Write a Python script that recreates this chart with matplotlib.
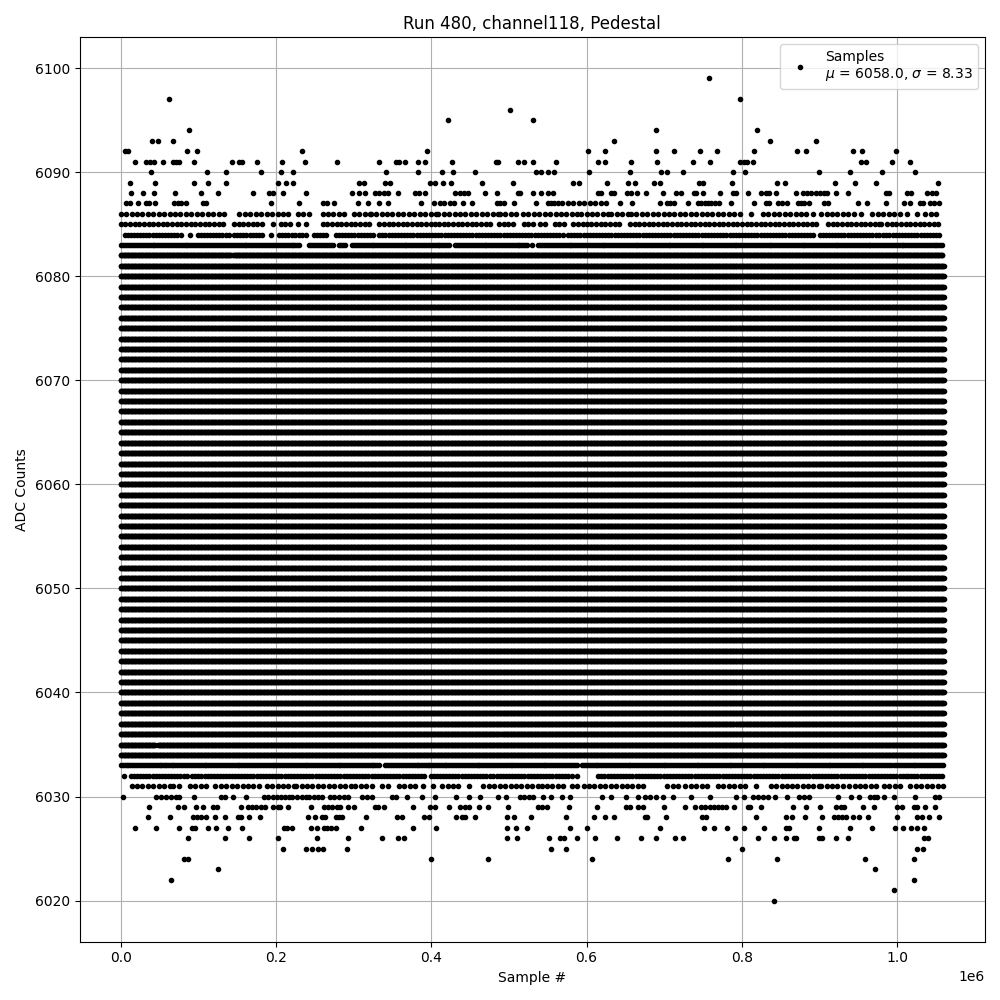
import numpy as np
import matplotlib
matplotlib.use("Agg")
import matplotlib.pyplot as plt

# ---- data (x in thousands of samples) ----
title = "Run 480, channel118, Pedestal"
mu, sigma = 6058.0, 8.33
n_samples_k = 1060

# levels that are (nearly) continuously filled over the run
full_levels = list(range(6034, 6082))
# gaps in otherwise full levels
full_level_gaps = {
    6035: [(0, 44), (48, 851), (853, 1060)],
    6036: [(0, 487), (489, 1060)],
    6037: [(0, 790), (792, 1060)],
}

# semi-dense levels: filled segments (thousands of samples)
segments = {
    6087: [(576, 598), (604, 628)],
    6086: [(0, 134), (153, 174), (181, 217), (228, 232), (243, 243), (260, 290), (300, 318),
           (322, 405), (409, 484), (488, 510), (518, 590), (593, 628), (632, 654), (657, 799),
           (812, 812), (827, 885), (891, 891), (902, 944), (953, 953), (968, 1002), (1013, 1013),
           (1026, 1026), (1036, 1051)],
    6085: [(0, 37), (42, 134), (146, 183), (196, 196), (206, 217), (228, 228), (238, 238),
           (260, 318), (333, 403), (410, 474), (487, 508), (519, 534), (540, 547), (559, 572),
           (583, 594), (600, 641), (656, 686), (692, 896), (911, 975), (979, 979), (987, 1056)],
    6084: [(5, 74), (78, 78), (89, 89), (99, 140), (146, 183), (193, 193), (204, 226), (230, 238),
           (249, 264), (277, 324), (333, 570), (576, 894), (900, 975), (982, 1056)],
    6083: [(1, 101), (104, 123), (127, 198), (200, 230), (243, 273), (281, 288), (298, 422),
           (431, 523), (530, 530), (538, 1058)],
    6082: [(0, 142), (145, 1058)],
    6033: [(0, 57), (58, 333), (341, 395), (397, 587), (594, 992), (996, 1058)],
    6032: [(4, 5), (13, 86), (92, 133), (135, 392), (399, 422), (427, 474), (480, 576), (581, 581),
           (587, 587), (615, 769), (771, 844), (847, 1011), (1014, 1058)],
    6031: [(14, 62), (68, 73), (89, 110), (122, 181), (188, 221), (226, 260), (268, 294), (302, 324),
           (337, 343), (358, 380), (389, 389), (402, 402), (414, 425), (435, 436), (448, 448),
           (467, 534), (542, 568), (581, 587), (596, 632), (638, 656), (666, 675), (704, 718),
           (727, 756), (769, 807), (818, 818), (837, 863), (871, 896), (902, 932), (938, 975),
           (983, 1005), (1016, 1016), (1024, 1058)],
}
# typical spacing of neighbouring samples on each semi-dense level (thousands of samples)
segment_spacing = {6087: 7, 6086: 7, 6085: 6, 6084: 4, 6083: 2.5, 6082: 1,
                   6033: 2.5, 6032: 4, 6031: 7}

# sparse levels: individual sample positions (thousands of samples)
sparse = {
    6099: [757],
    6097: [62, 797],
    6096: [501.5],
    6095: [422, 531.5],
    6094: [88.6, 689.7, 819.4],
    6093: [40, 48, 68, 635.4, 836, 895],
    6092: [5, 9.4, 85, 98, 233, 394.5, 602, 624, 689.7, 712.5, 745.4, 768, 816, 870.7, 882.3,
           943.5, 955, 999],
    6091: [18, 33, 38, 43, 54, 67, 71.5, 74.5, 95, 143, 153, 156, 175, 208, 237, 278, 332, 355,
           359, 366, 383, 392, 426.6, 483, 486.5, 511, 519, 531, 561, 615, 623.5, 657.6, 691, 737,
           759, 798, 802.3, 806.5, 814, 953, 959.3, 993.6, 1017],
    6090: [39, 111, 136, 181, 207, 222.5, 342, 383, 413.7, 428, 456.6, 534.4, 541, 550.7, 557.5,
           603.7, 655.6, 695.4, 704, 724.4, 788, 804, 899, 938.8, 980, 1022.7],
    6089: [12.4, 44, 95, 113, 136, 203, 213, 222.5, 307, 313, 340, 347, 398.8, 405, 415, 425.3,
           465, 505, 582, 590.5, 625.6, 653.4, 662.8, 686.8, 694.5, 745, 749.7, 787, 845, 855,
           920, 945.7, 972, 1052],
    6088: [13.7, 28.6, 43, 70, 103.5, 125, 171, 191, 195.5, 209, 238, 298, 307, 315, 328, 333,
           339, 344, 357, 379.6, 383.8, 391.5, 431, 437, 441.6, 446.7, 469.4, 484.3, 511.3, 514.3,
           530.5, 541.3, 550, 557, 615, 619, 632, 635.4, 652.5, 657, 664.6, 677, 698.7, 714.6,
           721.8, 737.7, 741, 749.7, 772, 788, 792.4, 808, 825, 831, 835, 843.8, 870, 879, 883.6,
           888.8, 895, 900.8, 906, 910, 920.8, 936.7, 986, 990, 1012.8, 1018, 1038.5, 1045, 1050.5],
    6087: [7.3, 12.4, 22, 32, 36, 43.6, 69, 73.6, 78, 84, 105.6, 110, 193, 230, 260, 266, 275,
           305, 319, 333, 344, 386.8, 403, 411.7, 416, 424.5, 429, 440.7, 453, 484.3, 488.7, 494,
           506.7, 534.4, 550, 554, 558.4, 562.7, 567.8, 642.7, 659, 694, 704, 708, 713, 730, 743,
           747.5, 752, 756, 760, 764.7, 771, 786, 816, 831, 835, 846, 851.5, 858, 871.6, 876, 880,
           886.6, 906, 911, 949.5, 961.5, 986, 1008.6, 1016, 1029, 1033.4, 1042, 1047, 1053.5],
    6030: [3, 45.8, 52.2, 58.7, 65, 71.5, 75.7, 95, 129, 134.8, 145, 162, 184.8, 190.3, 195.5,
           201, 206, 211.8, 216.9, 221, 227.6, 233, 238.3, 242.6, 249, 254.6, 259.7, 269, 274.7,
           281, 287.6, 293, 311, 317.5, 324, 349.6, 354.8, 368.8, 388, 405, 431.7, 448, 463,
           486.5, 496, 514, 519.9, 525.9, 531.5, 544.3, 554, 567.8, 578.6, 620, 631, 650.4, 666.2,
           674.8, 681, 689.7, 698.3, 711.6, 734.7, 759, 792.4, 803, 814, 820.3, 826.7, 833, 842.5,
           858, 874, 880, 886.6, 923.8, 941, 950.8, 964.8, 970, 974.3, 983, 995.7, 1023.3, 1049,
           1053.5],
    6029: [36, 73.6, 81, 97, 106.5, 118.5, 123.6, 155, 163.4, 169, 174, 180.6, 186, 196.4, 202,
           205, 216, 244.8, 262, 267.4, 272.6, 278, 283, 293, 300, 327, 331.5, 339, 376.5, 398.8,
           405, 423, 437, 443.8, 448, 460.8, 472.8, 498.5, 537, 542, 548.5, 577, 614, 651, 655.6,
           666.2, 672.6, 699.4, 727, 739.8, 746.7, 751.8, 759, 763.8, 769, 774, 779.6, 790, 807.4,
           811, 824.5, 865.6, 882.3, 900.3, 920.8, 927.3, 931.6, 956, 970, 1000, 1006.4, 1021,
           1025.7, 1035.5, 1049],
    6028: [35, 64, 92.8, 98, 103.5, 110, 121.5, 134, 150.6, 155, 164.7, 179.3, 241.3, 250, 258.9,
           263, 277, 281, 285.4, 316, 356, 362, 391, 396.7, 431.7, 439.4, 442.9, 456.6, 497, 506.6,
           528, 573, 609.3, 623.5, 635, 674.8, 678, 702.5, 748.4, 754, 818, 857, 865, 881, 903,
           918.7, 923.8, 929.4, 933.7, 943.5, 950.8, 962.8, 1000, 1025.7, 1032, 1040.6, 1053.5],
    6027: [19, 45.8, 75, 92, 96, 113, 122.8, 137.7, 155.7, 210.5, 214.8, 221, 244.8, 253.3, 261.9,
           266, 270.4, 277, 309, 376.5, 406.5, 497, 508.7, 522.8, 578, 601, 694.7, 751, 763.4, 781,
           803, 828.8, 857, 861, 899.5, 938.8, 967, 996.5, 1007.7, 1018, 1024.8, 1035],
    6026: [86.4, 134, 164.7, 203, 253.3, 292.7, 337, 357.5, 364.6, 497, 510, 551, 565.7, 571.3,
           587, 610.7, 639.7, 670.5, 689.7, 714, 724.4, 791.6, 821, 840.8, 857, 867, 869.4, 899.5,
           903.7, 921.3, 936, 1035, 1039.4],
    6025: [209, 238.4, 247, 254.6, 260.6, 291.8, 553.7, 573, 800, 1024.8, 1033.4],
    6024: [82, 86.4, 399.7, 472.8, 606.3, 782, 845, 958, 1021],
    6023: [125, 971],
    6022: [64.6, 1021],
    6021: [995.7],
    6020: [841.7],
}

# ---- assemble points ----
xs, ys = [], []


def add_segments(level, segs, step):
    for a, b in segs:
        pts = np.arange(a, b + step / 2, step) if b > a else np.array([a])
        xs.append(pts * 1000.0)
        ys.append(np.full(len(pts), level))


for lvl in full_levels:
    add_segments(lvl, full_level_gaps.get(lvl, [(0, n_samples_k)]), 1.0)
for lvl, segs in segments.items():
    add_segments(lvl, segs, segment_spacing[lvl])
for lvl, pts in sparse.items():
    pts = np.asarray(pts, dtype=float)
    xs.append(pts * 1000.0)
    ys.append(np.full(len(pts), lvl))

x = np.concatenate(xs)
y = np.concatenate(ys)

fig, ax = plt.subplots(figsize=(10, 10), dpi=100)
ax.plot(x, y, "k.", label="Samples\n$\\mu$ = %.1f, $\\sigma$ = %.2f" % (mu, sigma))
ax.set_title(title)
ax.set_xlabel("Sample #")
ax.set_ylabel("ADC Counts")
ax.grid(True)
ax.legend(loc="upper right")
fig.tight_layout()
fig.savefig("out.png", dpi=100)
